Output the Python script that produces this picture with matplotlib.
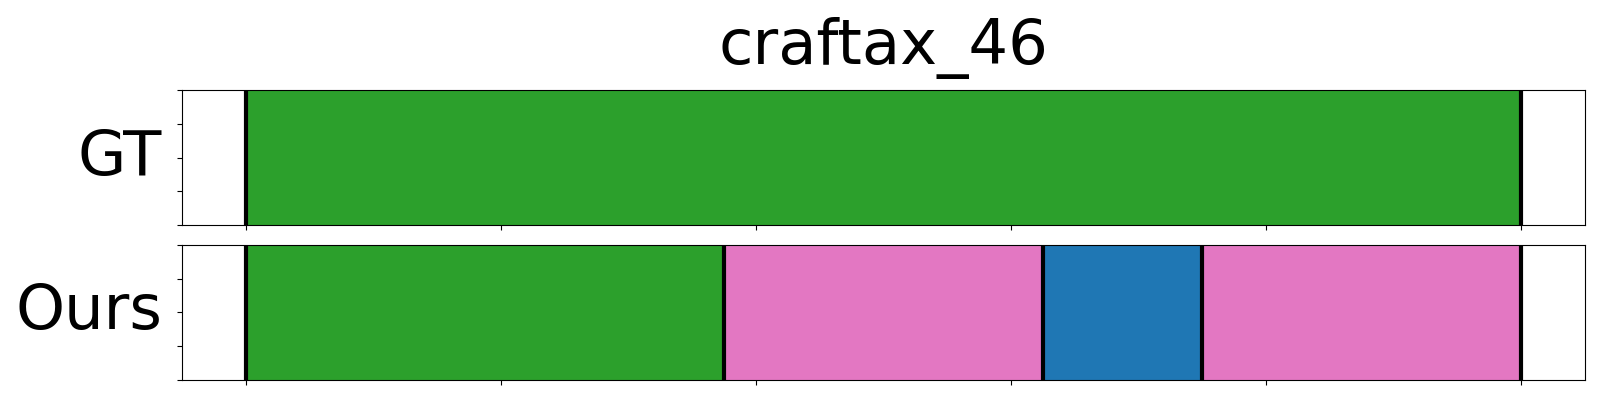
import matplotlib
matplotlib.use("Agg")
import matplotlib.pyplot as plt

title = "craftax_46"
n_frames = 40

# segments as (start, end, colour) in frame units
gt_starts = [0]
gt_ends = [40]
gt_colors = ["tab:green"]

ours_starts = [0, 15, 25, 30]
ours_ends = [15, 25, 30, 40]
ours_colors = ["tab:green", "tab:pink", "tab:blue", "tab:pink"]

rows = [("GT", gt_starts, gt_ends, gt_colors),
        ("Ours", ours_starts, ours_ends, ours_colors)]

fig, axs = plt.subplots(2, 1, figsize=(16, 4), dpi=100, sharex=True)
fig.subplots_adjust(left=0.1136, right=0.9906, top=0.775, bottom=0.05, hspace=0.148)

for ax, (name, starts, ends, colors) in zip(axs, rows):
    for s, e, c in zip(starts, ends, colors):
        ax.axvspan(s, e, color=c, lw=0)
    bounds = sorted(set(starts) | set(ends))
    for b in bounds:
        ax.axvline(b, color="black", lw=3)
    ax.set_xlim(-0.05 * n_frames, 1.05 * n_frames)
    ax.set_ylim(0, 1)
    ax.set_xticks([i * n_frames / 5 for i in range(6)])
    ax.set_yticks([0, 0.25, 0.5, 0.75, 1])
    ax.set_xticklabels([])
    ax.set_yticklabels([])
    ax.set_ylabel(name, fontsize=45, rotation=0, ha="right", va="center", labelpad=7)

axs[0].set_title(title, fontsize=45, pad=19)

fig.savefig("out.png")
